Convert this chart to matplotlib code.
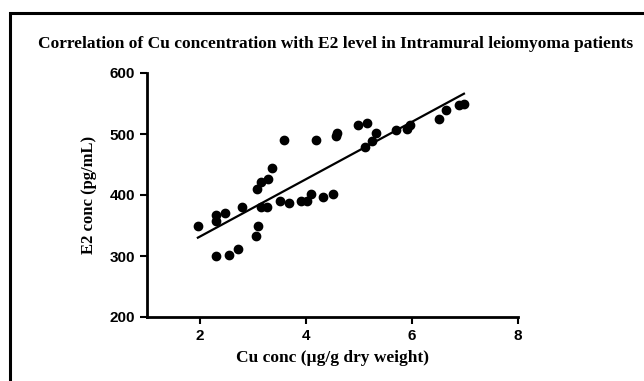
import numpy as np
import matplotlib.pyplot as plt
from matplotlib.patches import Rectangle

# Cu concentration vs E2 level
cu = [1.96, 2.30, 2.30, 2.31, 2.48, 2.55, 2.71, 2.80, 3.05, 3.09,
      3.08, 3.15, 3.15, 3.26, 3.29, 3.36, 3.50, 3.59, 3.67, 3.91,
      4.02, 4.10, 4.19, 4.33, 4.51, 4.57, 4.58, 4.98, 5.15, 5.12,
      5.24, 5.33, 5.69, 5.91, 5.97, 6.50, 6.65, 6.88, 6.98]
e2 = [350, 300, 358, 368, 370, 301, 311, 381, 332, 350,
      410, 421, 381, 381, 426, 444, 390, 490, 387, 390,
      390, 401, 490, 397, 401, 497, 501, 515, 518, 478,
      488, 502, 507, 509, 515, 524, 539, 547, 550]
x_ticks = [2, 4, 6, 8]
y_ticks = [200, 300, 400, 500, 600]

x = np.array(cu)
y = np.array(e2)
slope, intercept = np.polyfit(x, y, 1)
xs = np.array([x.min(), x.max()])

fig = plt.figure(figsize=(6.44, 3.81), dpi=100)
ax = fig.add_axes([147 / 644, 1 - 317 / 381, (518 - 147) / 644, (317 - 73) / 381])

ax.plot(x, y, 'o', color='black', markersize=6)
ax.plot(xs, slope * xs + intercept, color='black', lw=1.6)

ax.set_xlim(1, 8)
ax.set_ylim(200, 600)
ax.set_xticks(x_ticks)
ax.set_yticks(y_ticks)
for s in ['top', 'right']:
    ax.spines[s].set_visible(False)
for s in ['left', 'bottom']:
    ax.spines[s].set_linewidth(2)
ax.tick_params(width=1.5, length=5, direction='out')
for lab in ax.get_xticklabels() + ax.get_yticklabels():
    lab.set_fontfamily('Liberation Sans')
    lab.set_fontweight('bold')
    lab.set_fontsize(11)

ax.set_xlabel('Cu conc (µg/g dry weight)', family='Liberation Serif',
              fontweight='bold', fontsize=12.5, labelpad=5)
ax.set_ylabel('E2 conc (pg/mL)', family='Liberation Serif',
              fontweight='bold', fontsize=12, labelpad=9)
fig.text(336 / 644, 1 - 44 / 381,
         'Correlation of Cu concentration with E2 level in Intramural leiomyoma patients',
         ha='center', va='center', family='Liberation Serif',
         fontweight='bold', fontsize=12.5)

# outer frame (clipped at right and bottom like the source image)
fig.patches.append(Rectangle((10 / 644, -0.1), 1.0, 1 - 12.5 / 381 + 0.1,
                             transform=fig.transFigure, fill=False,
                             edgecolor='black', lw=2.2))

fig.savefig('out.png', dpi=100)
